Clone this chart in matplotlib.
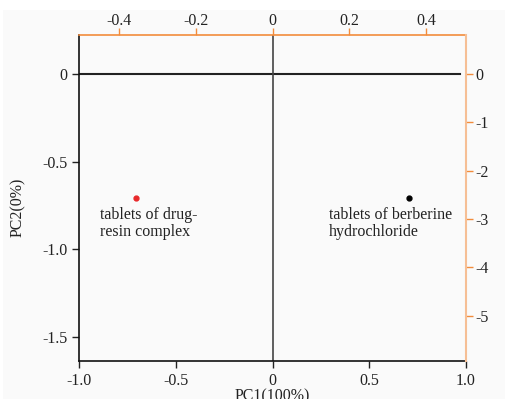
import matplotlib
matplotlib.use("Agg")
import matplotlib.pyplot as plt
from matplotlib.patches import Rectangle

plt.rcParams['font.family'] = ['Liberation Serif', 'DejaVu Serif']
plt.rcParams['axes.unicode_minus'] = False

# Scores on PC1 / PC2
names = ["tablets of drug-\nresin complex", "tablets of berberine\nhydrochloride"]
pc1 = [-0.707, 0.707]
pc2 = [-0.707, -0.707]
colors = ["#e8282a", "#000000"]

# tick labels
bottom_ticks = [-1.0, -0.5, 0.0, 0.5, 1.0]
left_ticks = [0.0, -0.5, -1.0, -1.5]
top_ticks = [-0.4, -0.2, 0.0, 0.2, 0.4]
right_ticks = [0, -1, -2, -3, -4, -5]

orange = "#f28c3c"
orange_light = "#f6bf95"
fs = 11.5

fig = plt.figure(figsize=(5.05, 3.99), dpi=100, facecolor="white")
# light gray canvas behind the chart
fig.patches.append(Rectangle((3 / 505, 0), 1, 1 - 10 / 399, transform=fig.transFigure,
                             facecolor="#fafafa", edgecolor="none", zorder=-10))

ax = fig.add_axes([79 / 505, 1 - 361 / 399, 387 / 505, 326 / 399])
ax.set_facecolor("none")
ax.set_xlim(-1, 1)
ax.set_ylim(-1.637, 0.222)

# zero lines
ax.axhline(0, xmax=0.985, color="#222222", lw=1.5, zorder=1)
ax.axvline(0, color="#444444", lw=1.2, zorder=1)

for x, y, c in zip(pc1, pc2, colors):
    ax.plot(x, y, "o", color=c, markersize=3.5, zorder=3)

# point labels
ax.text(-0.891, -0.76, names[0], ha="left", va="top", fontsize=fs, color="#222222", linespacing=1.05)
ax.text(0.292, -0.76, names[1], ha="left", va="top", fontsize=fs, color="#222222", linespacing=1.05)

ax.set_xticks(bottom_ticks)
ax.set_xticklabels(["-1.0", "-0.5", "0", "0.5", "1.0"])
ax.set_yticks(left_ticks)
ax.set_yticklabels(["0", "-0.5", "-1.0", "-1.5"])
ax.tick_params(direction="out", length=5, width=1, labelsize=fs, colors="#222222")
for s in ["top", "right"]:
    ax.spines[s].set_visible(False)
for s in ["left", "bottom"]:
    ax.spines[s].set_color("#111111")
    ax.spines[s].set_linewidth(1.2)

ax.set_xlabel("PC1(100%)", fontsize=fs, color="#222222")
ax.xaxis.set_label_coords(0.5, -0.083)
ax.xaxis.label.set_va("top")
ax.set_ylabel("PC2(0%)", fontsize=fs, color="#222222")
ax.yaxis.set_label_coords(-0.137, 0.47)

# top orange axis (loadings PC1)
ax_top = ax.twiny()
ax_top.set_xlim(-0.503, 0.503)
ax_top.set_xticks(top_ticks)
ax_top.set_xticklabels(["-0.4", "-0.2", "0", "0.2", "0.4"])
ax_top.tick_params(axis="x", direction="out", length=5, width=1, color=orange,
                   labelcolor="#222222", labelsize=fs, pad=-1)
for s in ["left", "right", "bottom"]:
    ax_top.spines[s].set_visible(False)
ax_top.spines["top"].set_color(orange)
ax_top.spines["top"].set_linewidth(1.2)

# right orange axis (loadings PC2)
ax_right = ax.twinx()
ax_right.set_ylim(-5.94, 0.81)
ax_right.set_yticks(right_ticks)
ax_right.set_yticklabels([str(t) for t in right_ticks])
ax_right.tick_params(axis="y", direction="out", length=5, width=1, color=orange,
                     labelcolor="#222222", labelsize=fs, pad=2)
for s in ["left", "top", "bottom"]:
    ax_right.spines[s].set_visible(False)
ax_right.spines["right"].set_color(orange_light)
ax_right.spines["right"].set_linewidth(1.5)

fig.savefig("out.png", dpi=100, facecolor=fig.get_facecolor())
